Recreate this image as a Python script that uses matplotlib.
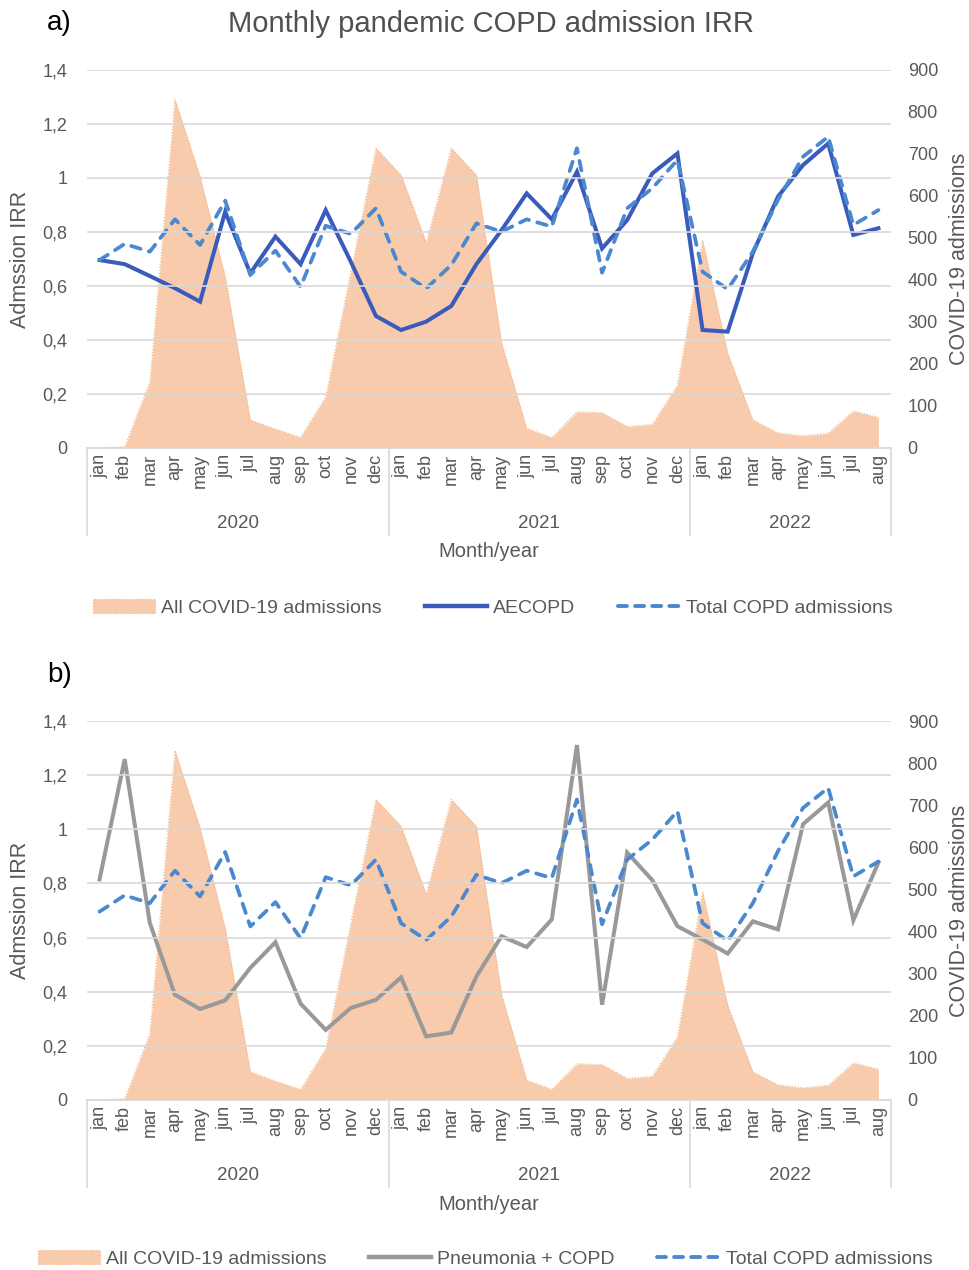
import numpy as np
import matplotlib
matplotlib.use("Agg")
import matplotlib.pyplot as plt
from matplotlib.patches import Patch
from matplotlib.lines import Line2D

plt.rcParams['font.family'] = ['Liberation Sans', 'DejaVu Sans']

months = ['jan', 'feb', 'mar', 'apr', 'may', 'jun', 'jul', 'aug', 'sep', 'oct', 'nov', 'dec']
month_labels = months + months + months[:8]
years = ['2020', '2021', '2022']
year_lengths = [12, 12, 8]

# all COVID-19 admissions (right axis)
covid = [0, 3, 157, 830, 646, 408, 67, 45, 25, 122, 420, 714,
         650, 489, 714, 650, 250, 47, 25, 86, 84, 51, 56, 150,
         495, 225, 67, 36, 29, 35, 88, 73]

# IRR series (left axis)
aecopd = [0.696, 0.681, 0.637, 0.592, 0.542, 0.875, 0.647, 0.783, 0.681, 0.881, 0.69, 0.489,
          0.437, 0.468, 0.526, 0.681, 0.807, 0.943, 0.847, 1.023, 0.739, 0.844, 1.017, 1.091,
          0.437, 0.431, 0.721, 0.931, 1.048, 1.128, 0.789, 0.814]
total_copd = [0.696, 0.756, 0.727, 0.847, 0.752, 0.916, 0.641, 0.731, 0.597, 0.823, 0.793, 0.888,
              0.653, 0.591, 0.678, 0.832, 0.801, 0.847, 0.82, 1.11, 0.649, 0.888, 0.962, 1.067,
              0.653, 0.588, 0.727, 0.919, 1.079, 1.153, 0.826, 0.881]
pneumonia = [0.815, 1.259, 0.654, 0.389, 0.336, 0.368, 0.488, 0.583, 0.356, 0.259, 0.34, 0.37,
             0.453, 0.235, 0.249, 0.457, 0.605, 0.565, 0.667, 1.311, 0.352, 0.914, 0.812, 0.642,
             0.593, 0.541, 0.66, 0.63, 1.019, 1.099, 0.664, 0.877]

left_ticks = [0, 0.2, 0.4, 0.6, 0.8, 1.0, 1.2, 1.4]
right_ticks = list(range(0, 1000, 100))

AREA = '#F8CBAD'
AREA_EDGE = '#F4B183'
DARK_BLUE = '#3A5BBC'
LIGHT_BLUE = '#4A88D0'
GRAY = '#999999'
GRID = '#D9D9D9'
TXT = '#595959'

fig = plt.figure(figsize=(9.7, 12.7), dpi=100)


def panel(rect, series, colors, styles):
    ax = fig.add_axes(rect)
    ax2 = ax.twinx()
    x = np.arange(len(covid))
    ax2.fill_between(x, covid, 0, color=AREA, lw=0)
    ax2.plot(x, covid, color=AREA_EDGE, lw=0.8, ls=':')
    ax2.set_ylim(0, 900)
    ax2.set_yticks(right_ticks)
    ax2.set_ylabel('COVID-19 admissions', fontsize=15.5, color=TXT, labelpad=8)

    ax.set_zorder(ax2.get_zorder() + 1)
    ax.patch.set_visible(False)
    for s, c, st in zip(series, colors, styles):
        if st == 'dash':
            ax.plot(x, s, color=c, lw=2.7, dashes=(2.6, 2.3), dash_capstyle='round')
        else:
            ax.plot(x, s, color=c, lw=2.9, solid_joinstyle='miter')
    ax.set_ylim(0, 1.4)
    ax.set_yticks(left_ticks)
    ax.set_yticklabels([('%g' % v).replace('.', ',') for v in left_ticks])
    ax.set_xlim(-0.5, len(covid) - 0.5)
    ax.grid(axis='y', color=GRID, lw=1.2)
    ax.set_axisbelow(False)
    ax.set_ylabel('Admssion IRR', fontsize=15.5, color=TXT, labelpad=8)
    ax.set_xticks(x)
    ax.set_xticklabels(month_labels, rotation=90, fontsize=13, color=TXT, va='top')

    for a in (ax, ax2):
        for sp in a.spines.values():
            sp.set_visible(False)
        a.tick_params(length=0, labelsize=13, labelcolor=TXT)
    ax.tick_params(axis='x', pad=4)
    ax.tick_params(axis='y', pad=14)
    ax2.tick_params(axis='y', pad=12)
    ax.spines['bottom'].set_visible(True)
    ax.spines['bottom'].set_color(GRID)
    ax.spines['bottom'].set_linewidth(1.2)

    tr = ax.get_xaxis_transform()
    start = -0.5
    bounds = [start]
    for yr, n in zip(years, year_lengths):
        ax.text(start + n / 2, -0.2, yr, transform=tr, ha='center', va='center',
                fontsize=13.5, color=TXT)
        start += n
        bounds.append(start)
    for b in bounds:
        ax.plot([b, b], [0, -0.23], transform=tr, color=GRID, lw=1.2, clip_on=False)
    ax.text(0.5, -0.275, 'Month/year', transform=ax.transAxes, ha='center', va='center',
            fontsize=14.5, color=TXT)

    handles = [Patch(facecolor=AREA, edgecolor=AREA_EDGE, linestyle=':', lw=0.8)]
    for c, st in zip(colors, styles):
        if st == 'dash':
            handles.append(Line2D([], [], color=c, lw=2.8, dashes=(2.3, 2.1), dash_capstyle='round'))
        else:
            handles.append(Line2D([], [], color=c, lw=3.2))
    return ax, handles


# panel a
ax_a, h_a = panel([87 / 970, 1 - 448 / 1270, 804 / 970, 378 / 1270],
                  [aecopd, total_copd], [DARK_BLUE, LIGHT_BLUE], ['solid', 'dash'])
fig.legend(h_a, ['All COVID-19 admissions', 'AECOPD', 'Total COPD admissions'],
           loc='center', bbox_to_anchor=(0.508, 1 - 608 / 1270), ncol=3, frameon=False,
           fontsize=14, labelcolor=TXT, handlelength=3.2, handletextpad=0.3, columnspacing=2.2)
fig.text(0.506, 1 - 24 / 1270, 'Monthly pandemic COPD admission IRR', ha='center', va='center',
         fontsize=21, color='#505050')
fig.text(47 / 970, 1 - 23 / 1270, 'a)', ha='left', va='center', fontsize=20, color='black')

# panel b
ax_b, h_b = panel([87 / 970, 1 - 1100 / 1270, 804 / 970, 379 / 1270],
                  [pneumonia, total_copd], [GRAY, LIGHT_BLUE], ['solid', 'dash'])
fig.legend(h_b, ['All COVID-19 admissions', 'Pneumonia + COPD', 'Total COPD admissions'],
           loc='center', bbox_to_anchor=(0.5, 1 - 1259 / 1270), ncol=3, frameon=False,
           fontsize=14, labelcolor=TXT, handlelength=3.2, handletextpad=0.3, columnspacing=2.2)
fig.text(47 / 970, 1 - 675 / 1270, 'b)', ha='left', va='center', fontsize=20, color='black')

fig.savefig('out.png', dpi=100)
